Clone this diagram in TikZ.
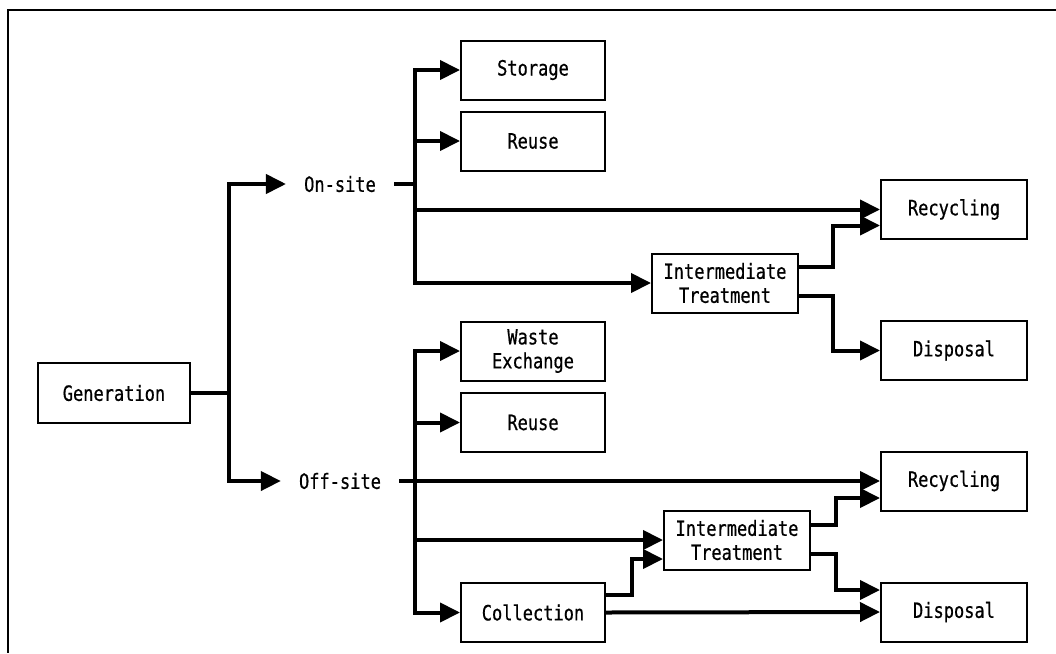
\documentclass[tikz,border=0pt]{standalone}
\usepackage{fontspec}
\newfontfamily\diafont[FakeStretch=0.81,FakeBold=0.6]{DejaVu Sans Mono}
\usetikzlibrary{arrows.meta}
\begin{document}
\begin{tikzpicture}[x=1pt,y=-1pt,
  txt/.style={font=\diafont\fontsize{21}{24}\selectfont},
  box/.style={txt,draw,line width=2pt,inner sep=0pt,minimum width=144pt,minimum height=59pt,align=center},
  wbox/.style={box,minimum width=146pt},
  lbl/.style={txt,inner xsep=18pt,inner ysep=2pt},
  conn/.style={line width=4pt},
  arr/.style={conn,-{Triangle[length=20pt,width=19pt]}},
  frame/.style={line width=1.5pt}]
\useasboundingbox (0,0) rectangle (1056,653);
\draw[frame] (1056,10) -- (8,10) -- (8,653);

\node[box,minimum width=152pt,minimum height=60pt] (gen) at (114,393) {Generation};
\node[lbl] (on) at (340,184) {On-site};
\node[lbl] (off) at (340,481) {Off-site};
\node[box] (sto) at (533,70) {Storage};
\node[box] (reu1) at (533,141) {Reuse};
\node[wbox] (rec1) at (954,209.5) {Recycling};
\node[wbox] (it1) at (725,283) {Intermediate\\Treatment};
\node[wbox] (dis1) at (954,350.5) {Disposal};
\node[box] (we) at (533,351) {Waste\\Exchange};
\node[box] (reu2) at (533,422.5) {Reuse};
\node[wbox] (rec2) at (954,481) {Recycling};
\node[wbox] (it2) at (737,540) {Intermediate\\Treatment};
\node[box] (col) at (533,612.5) {Collection};
\node[wbox] (dis2) at (954,612) {Disposal};

\coordinate (gJ) at (229,393);
\coordinate (onJ) at (415,184);
\coordinate (offJ) at (415,481);

\draw[conn] (gen.east) -- (gJ);
\draw[arr] (gJ) |- (on.west);
\draw[arr] (gJ) |- (off.west);

\draw[conn] (on.east) -- (onJ);
\draw[arr] (onJ) |- (sto.west);
\draw[arr] (onJ) |- (reu1.west);
\draw[arr] (onJ) |- (rec1.west);
\draw[arr] (onJ) |- (it1.west);
\draw[arr] ([yshift=16pt]it1.east) -- ++(34,0) |- ([yshift=-16pt]rec1.west);
\draw[arr] ([yshift=-13pt]it1.east) -- ++(34,0) |- (dis1.west);

\draw[arr] (off.east) -- (rec2.west);
\draw[arr] (offJ) |- (we.west);
\draw[arr] (offJ) |- (reu2.west);
\draw[arr] (offJ) |- (it2.west);
\draw[arr] (offJ) |- (col.west);
\draw[arr] ([yshift=18pt]col.east) -- ++(26,0) |- ([yshift=-19pt]it2.west);
\draw[arr] (col.east) -- (dis2.west);
\draw[arr] ([yshift=15pt]it2.east) -- ++(25,0) |- ([yshift=-17pt]rec2.west);
\draw[arr] ([yshift=-14pt]it2.east) -- ++(25,0) |- ([yshift=22pt]dis2.west);
\end{tikzpicture}
\end{document}
